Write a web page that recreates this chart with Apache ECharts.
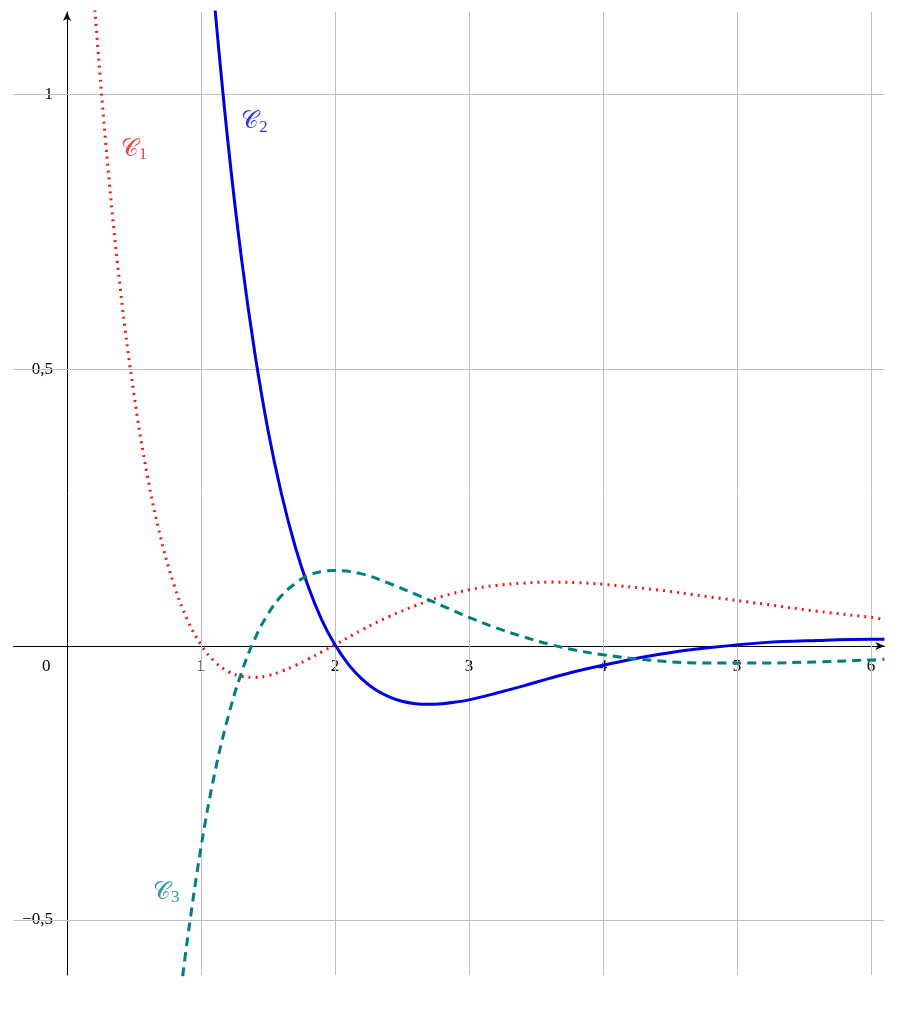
<!DOCTYPE html>
<html><head><meta charset="utf-8">
<script src="https://cdn.jsdelivr.net/npm/echarts@6/dist/echarts.min.js"></script>
<style>html,body{margin:0;padding:0;background:#fff}#c{width:917px;height:1014px}</style>
</head><body><div id="c"></div>
<script>
const xTicks=[1,2,3,4,5,6];
const yTicks=[-0.5,0.5,1];
const c1X=[0.2,0.3,0.4,0.5,0.6,0.7,0.8,0.9,1.0,1.1,1.2,1.3,1.4,1.5,1.6,1.7,1.8,1.9,2.0,2.2,2.4,2.6,2.8,3.0,3.2,3.4,3.6,3.8,4.0,4.4,4.8,5.2,5.6,6.0,6.1];
const c1Y=[1.179,0.882,0.643,0.455,0.307,0.194,0.108,0.0447,0,-0.030,-0.048,-0.057,-0.059,-0.056,-0.048,-0.038,-0.026,-0.013,0,0.027,0.051,0.071,0.088,0.100,0.108,0.112,0.114,0.113,0.110,0.100,0.087,0.074,0.061,0.050,0.046];
const c2X=[1.1,1.2,1.3,1.4,1.5,1.6,1.7,1.8,1.9,2.0,2.1,2.2,2.3,2.4,2.5,2.6,2.7,2.8,2.9,3.0,3.2,3.4,3.6,3.8,4.0,4.4,4.8,5.2,5.6,6.0,6.1];
const c2Y=[1.168,0.916,0.706,0.533,0.390,0.275,0.181,0.106,0.046,0,-0.0355,-0.062,-0.0812,-0.094,-0.1026,-0.107,-0.1082,-0.107,-0.104,-0.100,-0.088,-0.075,-0.061,-0.048,-0.037,-0.018,-0.005,0.004,0.008,0.010,0.010];
const c3X=[0.85,0.9,1.0,1.1,1.2,1.3,1.4,1.5,1.6,1.7,1.8,1.9,2.0,2.2,2.4,2.6,2.8,3.0,3.2,3.4,3.6,3.8,4.0,4.4,4.8,5.2,5.6,6.0,6.1];
const c3Y=[-0.629,-0.533,-0.368,-0.236,-0.133,-0.052,0.010,0.056,0.089,0.111,0.126,0.133,0.135,0.129,0.112,0.092,0.071,0.050,0.031,0.015,0.001,-0.010,-0.018,-0.029,-0.033,-0.033,-0.031,-0.0275,-0.026];
const zip=(a,b)=>a.map((v,i)=>[v,b[i]]);
const F='Liberation Serif';
const grid={color:'#c0c0c0',width:1,type:'solid'};
const ch=echarts.init(document.getElementById('c'));
ch.setOption({
 animation:false,
 grid:{left:13.4,right:32.6,top:12,bottom:39,containLabel:false,outerBoundsMode:'none'},
 xAxis:{type:'value',min:-0.4,max:6.1,splitLine:{show:false},position:'bottom',offset:-329,
  axisLine:{onZero:false,lineStyle:{color:'#000',width:1},symbol:['none','arrow'],symbolSize:[6,9]},
  axisTick:{show:false},
  axisLabel:{customValues:xTicks,color:'#000',fontFamily:F,fontSize:17,margin:12,formatter:v=>String(v)}},
 yAxis:{type:'value',min:-0.6,max:1.15,splitLine:{show:false},position:'left',offset:-53.6,
  axisLine:{onZero:false,lineStyle:{color:'#000',width:1},symbol:['none','arrow'],symbolSize:[6,9]},
  axisTick:{show:false},
  axisLabel:{customValues:yTicks,color:'#000',fontFamily:F,fontSize:17,margin:14,formatter:v=>String(v).replace('.',',').replace('-','\u2212')}},
 graphic:[{type:'text',left:42,top:658,style:{text:'0',font:'17px "Liberation Serif"',fill:'#000'}}],
 series:[
  {type:'line',data:zip(c1X,c1Y),smooth:0.4,showSymbol:false,z:3,lineStyle:{color:'#e8191c',width:3,type:[2,5]},
   markLine:{silent:true,symbol:'none',label:{show:false},lineStyle:grid,z:1,data:[...xTicks.map(v=>({xAxis:v})),...yTicks.map(v=>({yAxis:v}))]}},
  {type:'line',data:zip(c2X,c2Y),smooth:0.4,showSymbol:false,z:3,lineStyle:{color:'#0000e0',width:3}},
  {type:'line',data:zip(c3X,c3Y),smooth:0.4,showSymbol:false,z:3,lineStyle:{color:'#007f7f',width:3,type:[9,6]}},
  {type:'scatter',symbolSize:0,silent:true,z:4,
   data:[{value:[0.5,0.9],label:{color:'#e8191c',formatter:'𝒞{s|1}'}},{value:[1.4,0.95],label:{color:'#0000e0',formatter:'𝒞{s|2}'}},{value:[0.74,-0.45],label:{color:'#007f7f',formatter:'𝒞{s|3}'}}],
   label:{show:true,position:'inside',fontFamily:'DejaVu Serif',fontSize:24,rich:{s:{fontSize:17,fontFamily:F,padding:[10,0,0,0]}}}}
 ]
});
</script></body></html>
